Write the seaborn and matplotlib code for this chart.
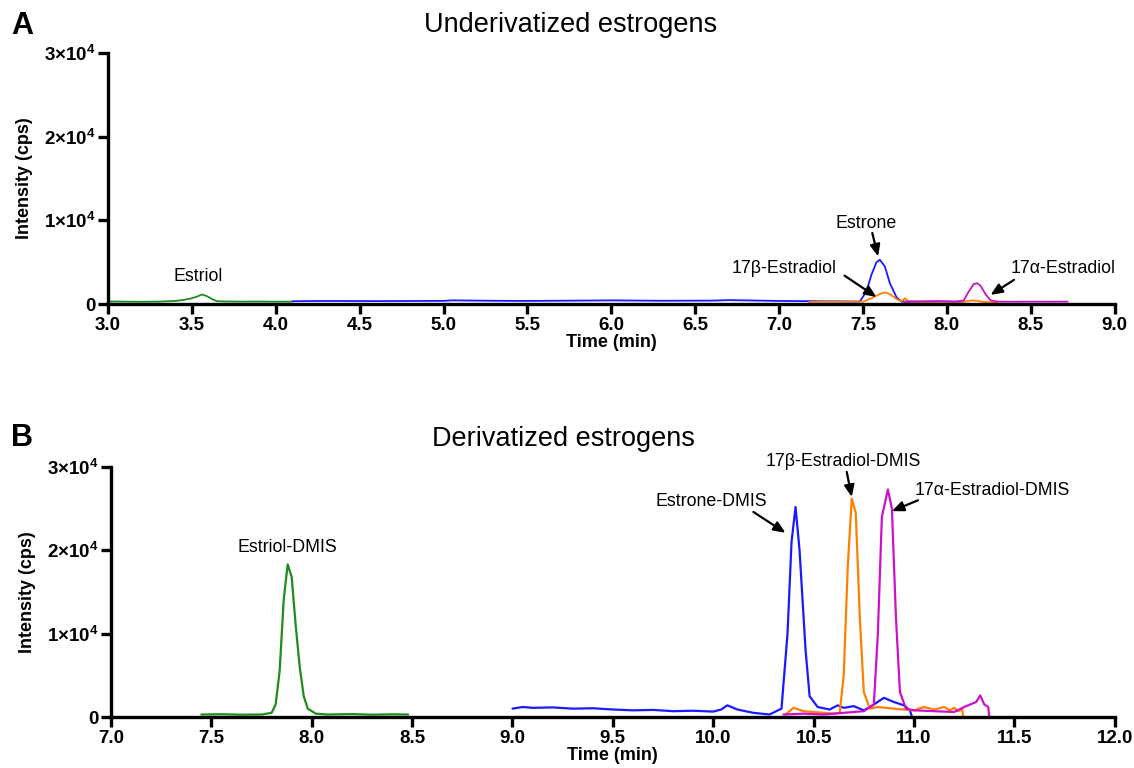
import matplotlib
matplotlib.use("Agg")
import matplotlib.pyplot as plt
import seaborn as sns
import pandas as pd

# ---------------- Data ----------------
# Panel A: underivatized estrogens
a_estriol_t = [3.00, 3.10, 3.20, 3.30, 3.40, 3.45, 3.50, 3.53, 3.56, 3.59, 3.62, 3.65, 3.70, 3.80, 3.90, 4.00, 4.10]
a_estriol_y = [320, 300, 280, 300, 380, 500, 700, 900, 1150, 950, 600, 350, 320, 300, 310, 290, 300]

a_estrone_t = [4.10, 4.30, 4.60, 5.00, 5.05, 5.30, 5.50, 5.80, 6.00, 6.30, 6.60, 6.70, 7.00, 7.20, 7.40, 7.48,
               7.52, 7.55, 7.58, 7.60, 7.63, 7.66, 7.70, 7.73, 7.76, 7.85, 7.95, 8.05, 8.10]
a_estrone_y = [350, 380, 360, 390, 450, 400, 380, 420, 450, 400, 420, 480, 380, 350, 320, 300,
               1500, 3500, 5000, 5300, 4500, 2500, 800, 300, 280, 300, 320, 290, 300]

a_17b_t = [7.18, 7.30, 7.40, 7.50, 7.55, 7.60, 7.63, 7.66, 7.70, 7.73, 7.75, 7.77, 7.85, 8.00, 8.10, 8.15, 8.18, 8.22, 8.30]
a_17b_y = [250, 300, 280, 300, 700, 1200, 1400, 1200, 600, 350, 700, 350, 280, 300, 280, 450, 400, 250, 200]

a_17a_t = [7.75, 7.85, 7.95, 8.05, 8.10, 8.13, 8.16, 8.18, 8.20, 8.23, 8.26, 8.30, 8.40, 8.50, 8.60, 8.72]
a_17a_y = [300, 320, 350, 300, 450, 1500, 2400, 2500, 2200, 1200, 450, 300, 280, 300, 290, 300]

# Panel B: derivatized estrogens
b_estriol_t = [7.45, 7.55, 7.65, 7.75, 7.80, 7.82, 7.84, 7.86, 7.88, 7.90, 7.92, 7.94, 7.96, 7.98, 8.02, 8.08, 8.20, 8.30, 8.40, 8.48]
b_estriol_y = [300, 330, 280, 300, 500, 1500, 5500, 14000, 18300, 16800, 11000, 6000, 2500, 1000, 400, 300, 350, 280, 320, 300]

b_estrone_t = [9.00, 9.05, 9.10, 9.20, 9.30, 9.40, 9.50, 9.60, 9.70, 9.80, 9.90, 10.00, 10.04, 10.07, 10.12, 10.20,
               10.28, 10.34, 10.37, 10.39, 10.41, 10.43, 10.46, 10.48, 10.52, 10.58, 10.62, 10.65, 10.70, 10.75,
               10.80, 10.85, 10.90, 10.95, 10.98, 10.99]
b_estrone_y = [1000, 1200, 1100, 1150, 1000, 1050, 900, 800, 850, 700, 750, 650, 900, 1400, 900, 500,
               300, 1000, 10000, 21000, 25200, 20000, 8000, 2500, 1200, 900, 1400, 1100, 1300, 800,
               1500, 2300, 1800, 1400, 800, 0]

b_17b_t = [10.36, 10.40, 10.45, 10.50, 10.55, 10.60, 10.63, 10.65, 10.67, 10.69, 10.71, 10.73, 10.75, 10.78,
           10.82, 10.90, 10.95, 11.00, 11.05, 11.10, 11.15, 11.18, 11.20, 11.22, 11.24, 11.245]
b_17b_y = [300, 1100, 700, 600, 500, 400, 500, 5000, 18000, 26200, 24500, 12000, 3000, 1000,
           1200, 1000, 900, 800, 1200, 900, 1200, 800, 1100, 700, 900, 0]

b_17a_t = [10.35, 10.45, 10.55, 10.65, 10.75, 10.80, 10.82, 10.84, 10.86, 10.87, 10.89, 10.91, 10.93, 10.96,
           11.00, 11.10, 11.20, 11.25, 11.28, 11.31, 11.33, 11.35, 11.37, 11.375]
b_17a_y = [300, 400, 300, 500, 700, 1500, 10000, 24000, 26200, 27300, 25000, 12000, 3000, 1000,
           800, 700, 600, 1200, 1500, 1800, 2600, 1500, 1200, 0]

compounds = ["Estriol", "Estrone", "17b", "17a"]
colors = {"Estriol": "#1e8c1e", "Estrone": "#1a1aff", "17b": "#ff8000", "17a": "#cc10cc"}

y_ticks = [0, 10000, 20000, 30000]
y_ticklabels = ["0", "1×10$^{4}$", "2×10$^{4}$", "3×10$^{4}$"]
a_xticks = [3.0, 3.5, 4.0, 4.5, 5.0, 5.5, 6.0, 6.5, 7.0, 7.5, 8.0, 8.5, 9.0]
b_xticks = [7.0, 7.5, 8.0, 8.5, 9.0, 9.5, 10.0, 10.5, 11.0, 11.5, 12.0]


def frame(series):
    rows = []
    for name, ts, ys in series:
        for t, y in zip(ts, ys):
            rows.append({"time": t, "intensity": y, "compound": name})
    return pd.DataFrame(rows)


df_a = frame([("Estriol", a_estriol_t, a_estriol_y), ("Estrone", a_estrone_t, a_estrone_y),
              ("17b", a_17b_t, a_17b_y), ("17a", a_17a_t, a_17a_y)])
df_b = frame([("Estriol", b_estriol_t, b_estriol_y), ("Estrone", b_estrone_t, b_estrone_y),
              ("17b", b_17b_t, b_17b_y), ("17a", b_17a_t, b_17a_y)])

# ---------------- Style ----------------
sns.set_style("ticks")
plt.rcParams["font.family"] = ["Liberation Sans", "DejaVu Sans"]
plt.rcParams["text.color"] = "black"
plt.rcParams["axes.labelcolor"] = "black"
plt.rcParams["mathtext.fontset"] = "custom"
plt.rcParams["mathtext.rm"] = "Liberation Sans:bold"
plt.rcParams["mathtext.bf"] = "Liberation Sans:bold"
plt.rcParams["mathtext.it"] = "Liberation Sans:bold"

fig = plt.figure(figsize=(11.34, 7.68), dpi=100)
ax_a = fig.add_axes([0.0952, 0.604, 0.8878, 0.327])
ax_b = fig.add_axes([0.0979, 0.0664, 0.8851, 0.3256])


def style_axis(ax, xticks, xlim):
    ax.set_xlim(*xlim)
    ax.set_ylim(0, 30000)
    ax.set_xticks(xticks)
    ax.set_xticklabels([f"{v:.1f}" for v in xticks])
    ax.set_yticks(y_ticks)
    ax.set_yticklabels(y_ticklabels)
    for s in ["top", "right"]:
        ax.spines[s].set_visible(False)
    for s in ["left", "bottom"]:
        ax.spines[s].set_linewidth(2.4)
        ax.spines[s].set_color("black")
    ax.tick_params(axis="both", length=7, width=2.4, direction="out", colors="black",
                   labelsize=13.5, pad=2)
    for lab in ax.get_xticklabels() + ax.get_yticklabels():
        lab.set_fontweight("bold")
    ax.set_xlabel("Time (min)", fontsize=13, fontweight="bold", labelpad=0)
    ax.set_ylabel("Intensity (cps)", fontsize=13, fontweight="bold", labelpad=8)
    ax.patch.set_visible(False)


sns.lineplot(data=df_a, x="time", y="intensity", hue="compound", hue_order=compounds,
             palette=colors, sort=False, estimator=None, legend=False, linewidth=1.3, ax=ax_a)
sns.lineplot(data=df_b, x="time", y="intensity", hue="compound", hue_order=compounds,
             palette=colors, sort=False, estimator=None, legend=False, linewidth=1.6, ax=ax_b)

style_axis(ax_a, a_xticks, (3.0, 9.0))
style_axis(ax_b, b_xticks, (7.0, 12.0))

# Titles and panel letters
fig.text(0.503, 0.967, "Underivatized estrogens", ha="center", va="center", fontsize=19.5)
fig.text(0.497, 0.429, "Derivatized estrogens", ha="center", va="center", fontsize=19.5)
fig.text(0.010, 0.966, "A", ha="left", va="center", fontsize=22, fontweight="bold")
fig.text(0.010, 0.430, "B", ha="left", va="center", fontsize=22, fontweight="bold")

arrow = dict(arrowstyle="-|>,head_length=0.7,head_width=0.3", color="black", lw=1.6,
             shrinkA=0, shrinkB=0)
fs = 12.8

# Panel A annotations
ax_a.text(3.54, 3300, "Estriol", ha="center", va="center", fontsize=fs)
ax_a.text(7.52, 9600, "Estrone", ha="center", va="center", fontsize=fs)
ax_a.annotate("", xy=(7.59, 5700), xytext=(7.555, 8500), arrowprops=arrow)
ax_a.text(7.03, 4300, "17β-Estradiol", ha="center", va="center", fontsize=fs)
ax_a.annotate("", xy=(7.58, 850), xytext=(7.39, 3400), arrowprops=arrow)
ax_a.text(8.69, 4300, "17α-Estradiol", ha="center", va="center", fontsize=fs)
ax_a.annotate("", xy=(8.26, 1100), xytext=(8.40, 2900), arrowprops=arrow)

# Panel B annotations
ax_b.text(7.88, 20300, "Estriol-DMIS", ha="center", va="center", fontsize=fs)
ax_b.text(9.99, 25800, "Estrone-DMIS", ha="center", va="center", fontsize=fs)
ax_b.annotate("", xy=(10.36, 22100), xytext=(10.20, 24600), arrowprops=arrow)
ax_b.text(10.65, 30700, "17β-Estradiol-DMIS", ha="center", va="center", fontsize=fs)
ax_b.annotate("", xy=(10.69, 26400), xytext=(10.665, 29400), arrowprops=arrow)
ax_b.text(11.39, 27200, "17α-Estradiol-DMIS", ha="center", va="center", fontsize=fs)
ax_b.annotate("", xy=(10.89, 24700), xytext=(11.02, 26000), arrowprops=arrow)

fig.savefig("out.png", dpi=100)
